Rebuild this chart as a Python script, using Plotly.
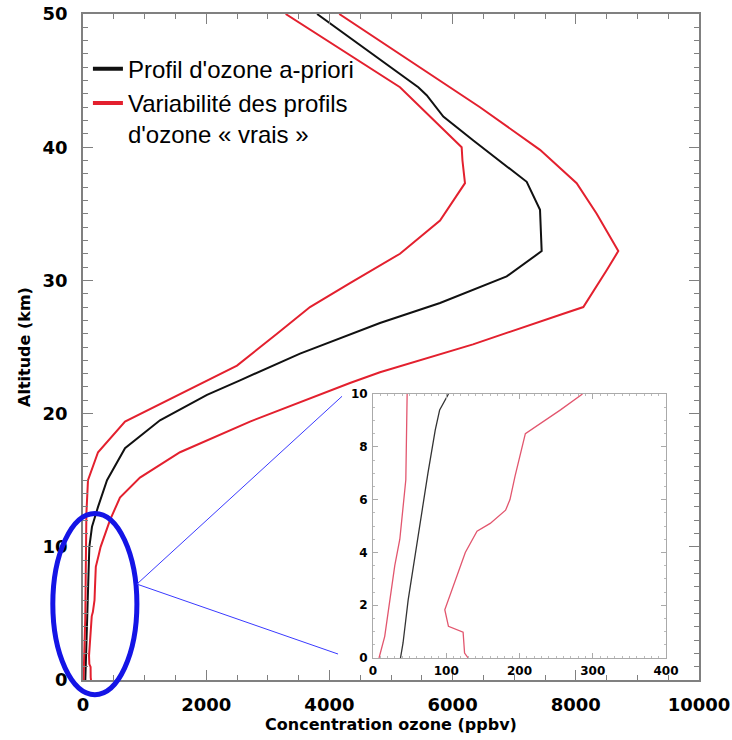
import plotly.graph_objects as go

# ---------------- data (altitude in km, ozone in ppbv) ----------------
apriori_alt = [0, 0.57, 2.2, 3.85, 5.5, 7.0, 8.64, 9.4, 10, 11.5, 13, 15.0, 17.4, 19.5, 21.4,
               22.5, 24.5, 26.8, 28.3, 30.3, 32.2, 35.3, 37.4, 40.5, 41.3, 42.3, 43.9,
               44.5, 50]
apriori_val = [37.5, 41, 48, 57, 66, 75, 85, 91, 103, 146, 244, 390, 682, 1250, 2013,
               2549, 3523, 4821, 5796, 6878, 7446, 7419, 7203, 6337, 6120, 5849, 5579,
               5443, 3800]

low_alt = [0, 0.82, 3.5, 4.5, 6.75, 10, 12.5, 15.0, 17.1, 19.4, 23.6, 26.0, 28.0, 29.8,
           32.0, 34.5, 37.3, 39.0, 40.0, 44.5, 50]
low_val = [8.2, 16, 29.7, 36.6, 44.8, 46.6, 55, 81, 244, 682, 2500, 3149, 3685, 4334,
           5146, 5796, 6201, 6160, 6147, 5146, 3290]

high_alt = [0, 0.19, 0.98, 1.2, 1.83, 4.0, 4.8, 5.1, 5.6, 6.0, 6.9, 8.5, 9.4, 10, 12.0,
            13.7, 15.2, 17.1, 19.4, 22.3, 23.1, 25.2, 27.5, 28.0, 30.8, 32.2, 35.0, 37.3,
            39.8, 43.0, 50]
high_val = [130, 125, 123, 103, 98, 126, 142, 160, 181, 187, 194, 208, 256, 286, 438,
            600, 925, 1575, 2711, 4334, 4821, 6331, 7797, 8122, 8506, 8690, 8339, 8014,
            7419, 6445, 4160]

INSET_TOP = 10

main_xticks = [0, 2000, 4000, 6000, 8000, 10000]
main_xlabels = ["0", "2000", "4000", "6000", "8000", "10000"]
main_yticks = [0, 10, 20, 30, 40, 50]
inset_xticks = [0, 100, 200, 300, 400]
inset_yticks = [0, 2, 4, 6, 8, 10]

name_apriori = "Profil d'ozone a-priori"
name_var = "Variabilité des profils<br>d'ozone « vrais »"

# ---------------- styles ----------------
RED = "#e3202e"
PINK = "#e2566e"
BLACK = "#111111"
AXC = "#808080"
FONT = "DejaVu Sans"

X_RANGE = [0, 10000]
Y_RANGE = [0, 50]


def to_px(x):
    return (x - X_RANGE[0]) / (X_RANGE[1] - X_RANGE[0])


def to_py(y):
    return (y - Y_RANGE[0]) / (Y_RANGE[1] - Y_RANGE[0])


def below(alt, val, top):
    a, v = [], []
    for ai, vi in zip(alt, val):
        if ai <= top:
            a.append(ai)
            v.append(vi)
    return a, v


fig = go.Figure()

# main curves
fig.add_trace(go.Scatter(x=apriori_val, y=apriori_alt, mode="lines",
                         line=dict(color=BLACK, width=2), showlegend=False,
                         xaxis="x", yaxis="y"))
fig.add_trace(go.Scatter(x=low_val, y=low_alt, mode="lines",
                         line=dict(color=RED, width=2), showlegend=False,
                         xaxis="x", yaxis="y"))
fig.add_trace(go.Scatter(x=high_val, y=high_alt, mode="lines",
                         line=dict(color=RED, width=2), showlegend=False,
                         xaxis="x", yaxis="y"))

# legend entries
fig.add_trace(go.Scatter(x=[None], y=[None], mode="lines", name=name_apriori,
                         line=dict(color=BLACK, width=4), xaxis="x", yaxis="y"))
fig.add_trace(go.Scatter(x=[None], y=[None], mode="lines", name=name_var,
                         line=dict(color=RED, width=4), xaxis="x", yaxis="y"))

# inset curves
for alt, val, col in [(low_alt, low_val, PINK), (apriori_alt, apriori_val, "#333333"),
                      (high_alt, high_val, PINK)]:
    a, v = below(alt, val, INSET_TOP)
    fig.add_trace(go.Scatter(x=v, y=a, mode="lines", line=dict(color=col, width=1.3),
                             showlegend=False, xaxis="x2", yaxis="y2"))

# zoom ellipse & connectors (defined in main data units, converted to paper)
ell = dict(x0=-490, x1=875, y0=-1.1, y1=12.5)
fig.add_shape(type="circle", xref="paper", yref="paper",
              x0=to_px(ell["x0"]), x1=to_px(ell["x1"]),
              y0=to_py(ell["y0"]), y1=to_py(ell["y1"]),
              line=dict(color="#1414e6", width=5))
start = (875, 7.2)
for end in [(4205, 21.3), (4140, 1.95)]:
    fig.add_shape(type="line", xref="paper", yref="paper",
                  x0=to_px(start[0]), y0=to_py(start[1]),
                  x1=to_px(end[0]), y1=to_py(end[1]),
                  line=dict(color="#3a3aff", width=1))

tickfont_main = dict(family=FONT, size=18, color="black", weight="bold")
tickfont_inset = dict(family=FONT, size=12, color="black", weight="bold")
titlefont = dict(family=FONT, size=16, color="black", weight="bold")

fig.update_layout(
    width=732, height=740,
    margin=dict(l=83, r=33, t=14, b=60),
    paper_bgcolor="white", plot_bgcolor="white",
    showlegend=True,
    legend=dict(x=0.008, y=0.951, xanchor="left", yanchor="top",
                bgcolor="rgba(0,0,0,0)", valign="top",
                font=dict(family="Liberation Sans", size=24, color="black"),
                itemwidth=30, tracegroupgap=0),
    xaxis=dict(domain=[0, 1], range=X_RANGE, tickvals=main_xticks, ticktext=main_xlabels,
               ticks="inside", ticklen=10, tickwidth=1.3, tickcolor=AXC,
               showline=True, linecolor=AXC, linewidth=1.5, mirror="allticks",
               showgrid=False, zeroline=False, tickfont=tickfont_main,
               ticklabelstandoff=8, automargin=False,
               minor=dict(dtick=500, tick0=0, ticks="inside", ticklen=5, tickcolor=AXC,
                          showgrid=False),
               title=dict(text="Concentration ozone (ppbv)", font=titlefont, standoff=4)),
    yaxis=dict(domain=[0, 1], range=Y_RANGE, tickvals=main_yticks,
               ticks="inside", ticklen=10, tickwidth=1.3, tickcolor=AXC,
               showline=True, linecolor=AXC, linewidth=1.5, mirror="allticks",
               showgrid=False, zeroline=False, tickfont=tickfont_main,
               ticklabelstandoff=10, automargin=False,
               minor=dict(dtick=1, tick0=0, ticks="inside", ticklen=5, tickcolor=AXC,
                          showgrid=False),
               title=dict(text="Altitude (km)", font=titlefont, standoff=8)),
    xaxis2=dict(domain=[0.4708, 0.9464], anchor="y2", range=[0, 400],
                tickvals=inset_xticks, ticks="inside", ticklen=5, tickcolor="#aaaaaa",
                showline=True, linecolor="#aaaaaa", linewidth=1, mirror="allticks",
                showgrid=False, zeroline=False, tickfont=tickfont_inset,
                ticklabelstandoff=2, automargin=False,
                minor=dict(dtick=10, tick0=0, ticks="inside", ticklen=2,
                           tickcolor="#bbbbbb", showgrid=False)),
    yaxis2=dict(domain=[0.033, 0.4294], anchor="x2", range=[0, 10],
                tickvals=inset_yticks, ticks="inside", ticklen=5, tickcolor="#aaaaaa",
                showline=True, linecolor="#aaaaaa", linewidth=1, mirror="allticks",
                showgrid=False, zeroline=False, tickfont=tickfont_inset,
                ticklabelstandoff=2, automargin=False,
                minor=dict(dtick=0.5, tick0=0, ticks="inside", ticklen=2,
                           tickcolor="#bbbbbb", showgrid=False)),
)

fig.write_html("out.html")
